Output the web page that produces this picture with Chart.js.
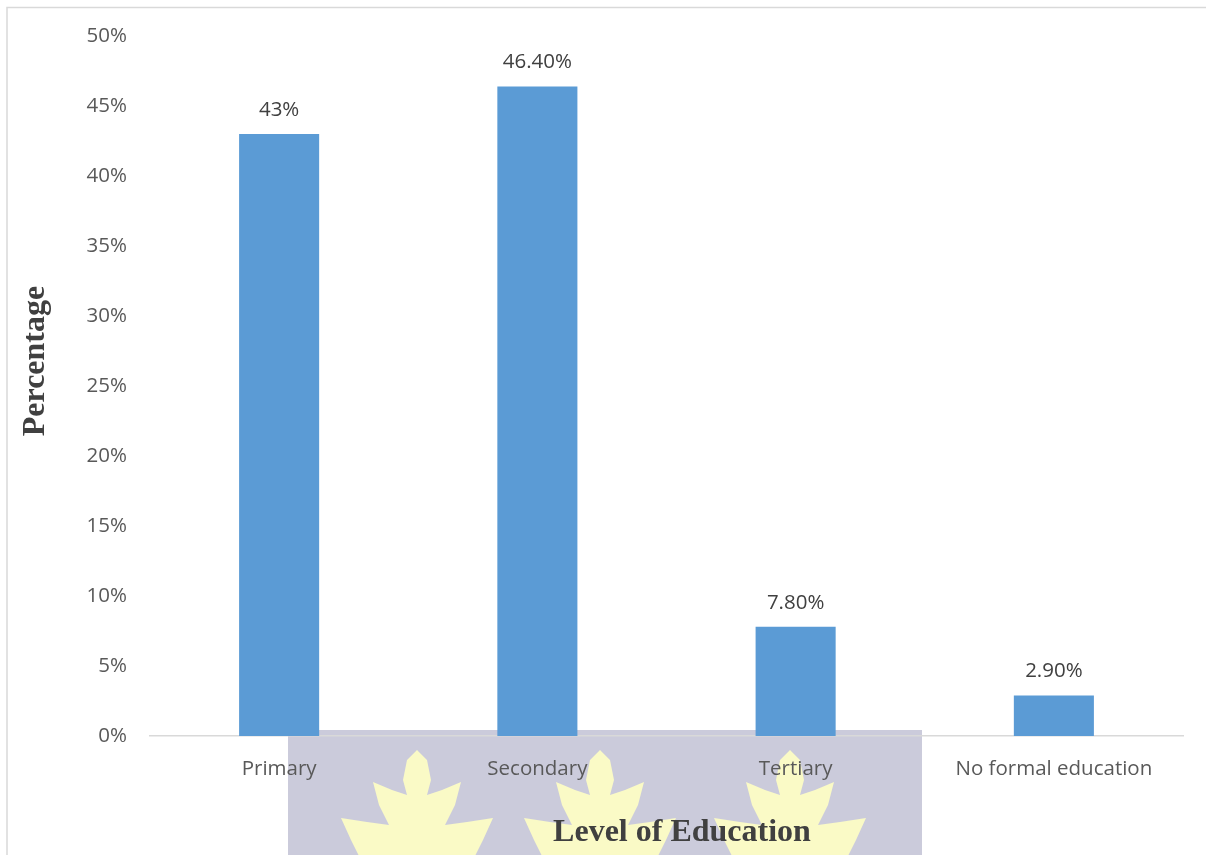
<!DOCTYPE html>
<html>
<head>
<meta charset="utf-8">
<script src="https://cdn.jsdelivr.net/npm/chart.js@4"></script>
<style>
  html, body { margin: 0; padding: 0; background: #ffffff; }
  #wrap { width: 1206px; height: 855px; position: relative; }
</style>
</head>
<body>
<div id="wrap"><canvas id="c" width="1206" height="855"></canvas></div>
<script>
const categories = ["Primary", "Secondary", "Tertiary", "No formal education"];
const values = [43, 46.4, 7.8, 2.9];
const valueLabels = ["43%", "46.40%", "7.80%", "2.90%"];
const yTitle = "Percentage";
const xTitle = "Level of Education";

const labelsPlugin = {
  id: 'barLabels',
  afterDatasetsDraw(chart) {
    const ctx = chart.ctx;
    const meta = chart.getDatasetMeta(0);
    ctx.save();
    ctx.font = '20.5px "Open Sans"';
    ctx.fillStyle = '#404040';
    ctx.textAlign = 'center';
    ctx.textBaseline = 'middle';
    meta.data.forEach((bar, i) => {
      ctx.fillText(valueLabels[i], bar.x, bar.y - 24);
    });
    ctx.restore();
  }
};

const backPlugin = {
  id: 'back',
  beforeDraw(chart) {
    const ctx = chart.ctx;
    ctx.save();
    // frame lines
    ctx.strokeStyle = '#d9d9d9';
    ctx.lineWidth = 1.5;
    ctx.beginPath();
    ctx.moveTo(7, 855);
    ctx.lineTo(7, 7.5);
    ctx.lineTo(1206, 7.5);
    ctx.stroke();
    // watermark
    ctx.fillStyle = '#cbcbdb';
    ctx.fillRect(288, 730, 634, 125);
    const pts = [[0,0],[10,10],[14,30],[10,45],[25,40],[44,32],[38,55],[28,75],[50,72],[76,68],[66,90],[56,110]];
    ctx.fillStyle = '#fafac6';
    [417, 600, 790].forEach(cx => {
      ctx.beginPath();
      ctx.moveTo(cx, 750);
      pts.forEach(p => ctx.lineTo(cx + p[0], 750 + p[1]));
      for (let i = pts.length - 1; i >= 0; i--) ctx.lineTo(cx - pts[i][0], 750 + pts[i][1]);
      ctx.closePath();
      ctx.fill();
    });
    ctx.restore();
  },
  afterDraw(chart) {
    const ctx = chart.ctx;
    ctx.save();
    ctx.fillStyle = '#404040';
    ctx.font = 'bold 32px "Liberation Serif"';
    ctx.textAlign = 'center';
    ctx.textBaseline = 'middle';
    ctx.fillText(xTitle, 682, 833);
    ctx.translate(36, 361);
    ctx.rotate(-Math.PI / 2);
    ctx.fillText(yTitle, 0, 0);
    ctx.restore();
  }
};

new Chart(document.getElementById('c'), {
  type: 'bar',
  data: {
    labels: categories,
    datasets: [{
      data: values,
      backgroundColor: '#5b9bd5',
      barPercentage: 0.31,
      categoryPercentage: 1.0
    }]
  },
  options: {
    responsive: false,
    animation: false,
    events: [],
    layout: { padding: { top: 36, right: 23, left: 0, bottom: 0 } },
    plugins: { legend: { display: false }, tooltip: { enabled: false } },
    scales: {
      x: {
        grid: { display: false, drawTicks: false },
        border: { display: true, color: '#d9d9d9', width: 1.5 },
        ticks: { color: '#595959', font: { family: '"Open Sans"', size: 20.5 }, padding: 21, maxRotation: 0 },
        afterFit(s) { s.height = 119; }
      },
      y: {
        min: 0, max: 50,
        grid: { display: false, drawTicks: false },
        border: { display: false },
        ticks: { stepSize: 5, color: '#595959', font: { family: '"Open Sans"', size: 20.5 }, padding: 23,
          callback: v => v + '%' },
        afterFit(s) { s.width = 150; }
      }
    }
  },
  plugins: [labelsPlugin, backPlugin]
});
</script>
</body>
</html>
